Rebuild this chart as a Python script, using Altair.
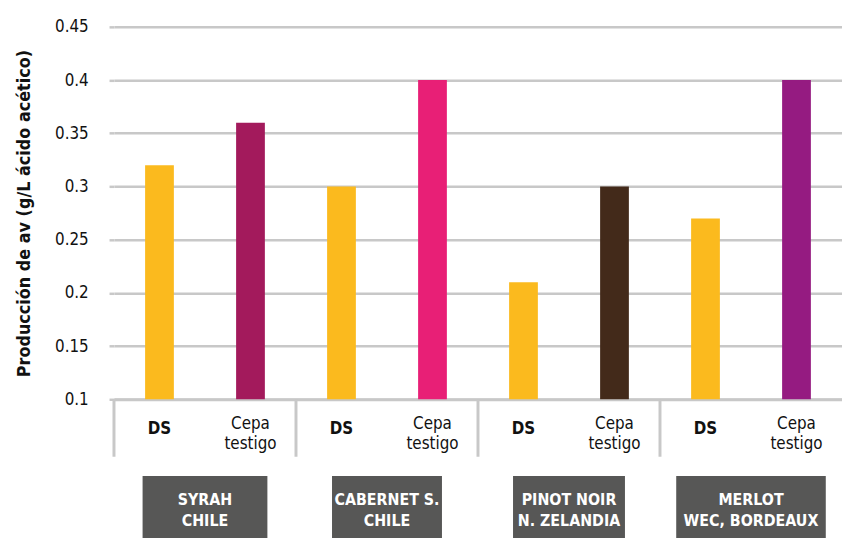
import altair as alt
import pandas as pd

# ---------------- data ----------------
group_ids = ["Syrah", "Cabernet", "Pinot", "Merlot"]
group_labels = ["SYRAH\nCHILE", "CABERNET S.\nCHILE", "PINOT NOIR\nN. ZELANDIA", "MERLOT\nWEC, BORDEAUX"]
series = ["DS", "Cepa testigo"]
series_labels = ["DS", "Cepa\ntestigo"]
ds_values = [0.32, 0.30, 0.21, 0.27]
cepa_values = [0.36, 0.40, 0.30, 0.40]
y_ticks = [0.1, 0.15, 0.2, 0.25, 0.3, 0.35, 0.4, 0.45]

# ---------------- style ----------------
DS_COLOR = "#FBBA1E"
CEPA_COLORS = ["#A31A5C", "#E81F76", "#432A1A", "#951B81"]
BOX_WIDTHS = [126, 111, 113, 151]
GRID = "#C8C8C8"
BOX = "#575756"
FONT = "DejaVu Sans Condensed, Liberation Sans Narrow, sans-serif"
W, H = 735, 376

rows = []
for g, d, c in zip(group_ids, ds_values, cepa_values):
    rows.append({"group": g, "series": series[0], "value": d, "key": g + "|" + series[0], "label": series_labels[0]})
    rows.append({"group": g, "series": series[1], "value": c, "key": g + "|" + series[1], "label": series_labels[1]})
bars_df = pd.DataFrame(rows)

color_domain = [g + "|" + s for g in group_ids for s in series]
color_range = []
for cc in CEPA_COLORS:
    color_range += [DS_COLOR, cc]

groups_df = pd.DataFrame({"group": group_ids, "label": group_labels, "boxw": BOX_WIDTHS})

x_enc = alt.X("group:N", sort=group_ids,
              scale=alt.Scale(paddingInner=0, paddingOuter=0),
              axis=alt.Axis(title=None, labels=False, ticks=False,
                            domainColor=GRID, domainWidth=3))
xo_enc = alt.XOffset("series:N", sort=series,
                     scale=alt.Scale(paddingInner=0.684, paddingOuter=0.342))

bars = alt.Chart(bars_df).mark_bar().encode(
    x=x_enc,
    xOffset=xo_enc,
    y=alt.Y("value:Q",
            scale=alt.Scale(domain=[0.1, 0.45], zero=False, nice=False),
            axis=alt.Axis(title="Producción de av (g/L ácido acético)",
                          values=y_ticks, format=".2~f",
                          grid=True, gridColor=GRID, gridWidth=2.5,
                          domain=False, tickColor=GRID, tickSize=5, tickWidth=2.5,
                          labelFont=FONT, labelFontSize=17, labelColor="#111111",
                          labelPadding=21,
                          titleFont=FONT, titleFontSize=18, titleFontWeight="bold",
                          titleColor="#111111", titlePadding=21)),
    y2=alt.datum(0.1),
    color=alt.Color("key:N", scale=alt.Scale(domain=color_domain, range=color_range), legend=None),
)

ds_text = alt.Chart(bars_df).transform_filter(alt.datum.series == "DS").mark_text(
    font=FONT, fontSize=17, fontWeight="bold", color="#111111", baseline="middle", align="center"
).encode(x=alt.X("group:N", sort=group_ids), xOffset=alt.XOffset("series:N", sort=series),
         y=alt.value(H + 30), text="label:N")

cepa_text = alt.Chart(bars_df).transform_filter(alt.datum.series != "DS").mark_text(
    font=FONT, fontSize=17, color="#111111", baseline="middle", align="center",
    lineBreak="\n", lineHeight=20
).encode(x=alt.X("group:N", sort=group_ids), xOffset=alt.XOffset("series:N", sort=series),
         y=alt.value(H + 25), text="label:N")

seps = alt.Chart(groups_df).mark_rule(color=GRID, strokeWidth=3).encode(
    x=alt.X("group:N", sort=group_ids, bandPosition=0),
    y=alt.value(H), y2=alt.value(H + 58))

boxes = alt.Chart(groups_df).mark_bar(color=BOX).encode(
    x=alt.X("group:N", sort=group_ids),
    size=alt.Size("boxw:Q", scale=None, legend=None),
    y=alt.value(H + 77.5), y2=alt.value(H + 140))

box_text = alt.Chart(groups_df).mark_text(
    font=FONT, fontSize=16, fontWeight="bold", color="white", baseline="middle",
    align="center", lineBreak="\n", lineHeight=21
).encode(x=alt.X("group:N", sort=group_ids), y=alt.value(H + 102), text="label:N")

chart = alt.layer(bars, seps, ds_text, cepa_text, boxes, box_text).properties(
    width=W, height=H,
    padding={"left": 107, "top": 16.5, "right": 0, "bottom": 137},
    autosize=alt.AutoSizeParams(type="none"),
).configure_view(stroke=None)

chart.save("out.html", embed_options={"renderer": "svg", "actions": False})
